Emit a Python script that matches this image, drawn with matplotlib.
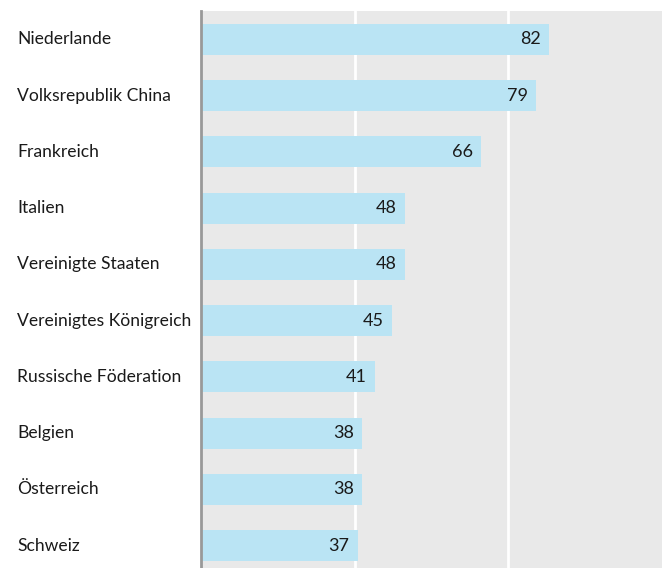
import matplotlib.pyplot as plt

countries = ["Niederlande", "Volksrepublik China", "Frankreich", "Italien",
             "Vereinigte Staaten", "Vereinigtes Königreich", "Russische Föderation",
             "Belgien", "Österreich", "Schweiz"]
values = [82, 79, 66, 48, 48, 45, 41, 38, 38, 37]

plt.rcParams["font.family"] = ["Lato", "DejaVu Sans"]

fig = plt.figure(figsize=(6.62, 5.68), dpi=100)
ax = fig.add_axes([201 / 662, 0, 461 / 662, 1 - 11 / 568])
ax.set_facecolor("#e9e9e9")

xmax = 108.6
ax.set_xlim(0, xmax)
ax.set_ylim(len(values) - 0.6, -0.506)

# white gridlines at thirds
for g in [xmax / 3, 2 * xmax / 3]:
    ax.axvline(g, color="white", lw=2, zorder=1)

ypos = range(len(values))
ax.barh(ypos, values, height=0.55, color="#bae4f4", zorder=2)

for y, v in zip(ypos, values):
    ax.text(v - 2.0, y, str(v), ha="right", va="center", fontsize=13,
            color="#1a1a1a", zorder=3)

for y, c in zip(ypos, countries):
    ax.text(17 / 662, ax.transData.transform((0, y))[1] / fig.bbox.height, c,
            transform=fig.transFigure, ha="left", va="center", fontsize=12.6,
            color="#1a1a1a")

for s in ["top", "right", "bottom"]:
    ax.spines[s].set_visible(False)
ax.spines["left"].set_color("#999999")
ax.spines["left"].set_linewidth(2)
ax.set_xticks([])
ax.set_yticks([])

fig.savefig("out.png", dpi=100)
